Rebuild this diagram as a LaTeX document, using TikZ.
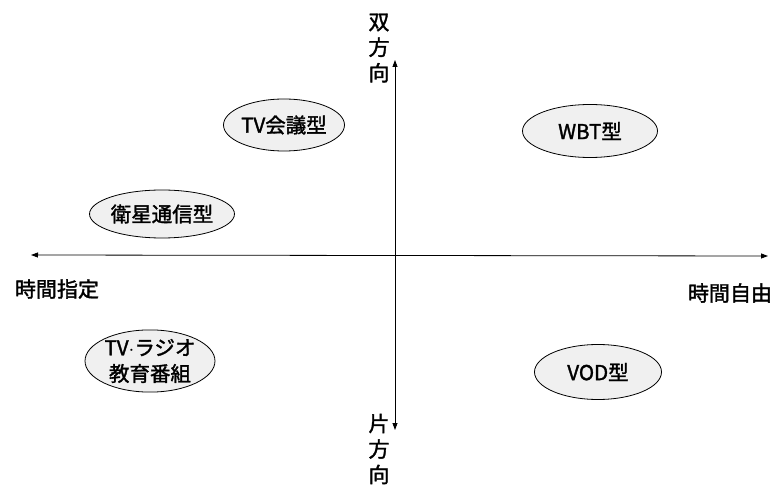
\documentclass[tikz,border=0pt]{standalone}
\usepackage{fontspec}
\setmainfont{Noto Sans CJK JP}[AutoFakeBold=1.6]
\usetikzlibrary{shapes.geometric,arrows.meta}

\begin{document}
\begin{tikzpicture}[x=1pt,y=-1pt,
    kind/.style={draw,thick,ellipse,fill=gray!12,inner sep=0pt,font=\fontsize{20.5}{26}\selectfont\bfseries},
    lbl/.style={font=\fontsize{21}{25.5}\selectfont\bfseries,align=center,inner sep=0pt},
    axis/.style={draw,thick,{Triangle[length=7pt,width=5pt]}-{Triangle[length=7pt,width=5pt]}}]
    \useasboundingbox (0,0) rectangle (782,486);

    \coordinate (west) at (31,255);
    \coordinate (east) at (768,256);
    \coordinate (north) at (395,60);
    \coordinate (south) at (395,430);

    \draw[axis] (west) -- (east);
    \draw[axis] (north) -- (south);

    \node[lbl] (twoway) at (379,48) {双\\方\\向};
    \node[lbl] (oneway) at (379,449) {片\\方\\向};
    \node[lbl] (fixed) at (57,289) {時間指定};
    \node[lbl] (free) at (730,293) {時間自由};

    \node[kind,minimum width=118pt,minimum height=52pt] (tvconf) at (284,125) {TV会議型};
    \node[kind,minimum width=141pt,minimum height=48pt] (sat) at (162,214) {衛星通信型};
    \node[kind,minimum width=130pt,minimum height=62pt,align=center] (tvradio) at (150,361) {TV$\cdot$ラジオ\\教育番組};
    \node[kind,minimum width=135pt,minimum height=53pt] (wbt) at (590,131) {WBT型};
    \node[kind,minimum width=127pt,minimum height=55pt] (vod) at (598,372) {VOD型};
\end{tikzpicture}
\end{document}
